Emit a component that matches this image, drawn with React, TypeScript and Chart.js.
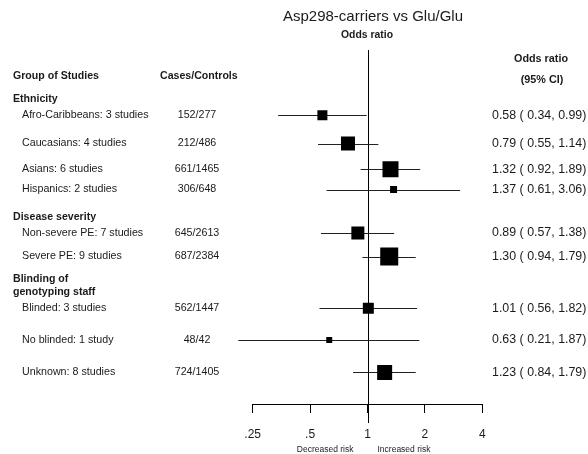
import React, { useEffect, useRef } from "react";
import { Chart, registerables } from "chart.js";

Chart.register(...registerables);

// ---- data ----
const categories = [
  "Afro-Caribbeans: 3 studies",
  "Caucasians: 4 studies",
  "Asians: 6 studies",
  "Hispanics: 2 studies",
  "Non-severe PE: 7 studies",
  "Severe PE: 9 studies",
  "Blinded: 3 studies",
  "No blinded: 1 study",
  "Unknown: 8 studies",
];
const casesControls = [
  "152/277",
  "212/486",
  "661/1465",
  "306/648",
  "645/2613",
  "687/2384",
  "562/1447",
  "48/42",
  "724/1405",
];
const oddsRatio = [0.58, 0.79, 1.32, 1.37, 0.89, 1.3, 1.01, 0.63, 1.23];
const ciLower = [0.34, 0.55, 0.92, 0.61, 0.57, 0.94, 0.56, 0.21, 0.84];
const ciUpper = [0.99, 1.14, 1.89, 3.06, 1.38, 1.79, 1.82, 1.87, 1.79];
// relative study weight (box side)
const boxWeights = [10, 14, 16, 7, 13, 18, 11, 6, 15];
// row positions (row units from the top of the plot)
const rowPos = [2.21, 3.17, 4.04, 4.73, 6.2, 7.0, 8.75, 9.83, 10.93];
const groupLabels = ["Ethnicity", "Disease severity", "Blinding of", "genotyping staff"];
const groupPos = [1.67, 5.67, 7.75, 8.2];
const tickValues = [0.25, 0.5, 1, 2, 4];
const tickLabels = [".25", ".5", "1", "2", "4"];

const FONT = "'Liberation Sans', Arial, Helvetica, sans-serif";
const TEXT = "#1a1a1a";

const forestPlugin = {
  id: "forest",
  beforeDatasetsDraw(chart: any) {
    const { ctx, chartArea, scales } = chart;
    const x = scales.x;
    const y = scales.y;
    ctx.save();
    ctx.strokeStyle = "#000";
    ctx.lineWidth = 1;
    // reference line at OR = 1
    const x1 = Math.round(x.getPixelForValue(1)) + 0.5;
    ctx.beginPath();
    ctx.moveTo(x1, chartArea.top);
    ctx.lineTo(x1, chartArea.bottom + 19);
    ctx.stroke();
    // CI lines
    ctx.strokeStyle = "#222";
    for (let i = 0; i < oddsRatio.length; i++) {
      const py = Math.round(y.getPixelForValue(rowPos[i])) + 0.5;
      ctx.beginPath();
      ctx.moveTo(x.getPixelForValue(ciLower[i]), py);
      ctx.lineTo(x.getPixelForValue(ciUpper[i]), py);
      ctx.stroke();
    }
    ctx.restore();
  },
  afterDraw(chart: any) {
    const { ctx, scales } = chart;
    const x = scales.x;
    const y = scales.y;
    ctx.save();
    ctx.fillStyle = TEXT;
    ctx.textBaseline = "middle";

    // title
    ctx.textAlign = "center";
    ctx.font = `15px ${FONT}`;
    ctx.fillText("Asp298-carriers vs Glu/Glu", 373, 17);
    ctx.font = `bold 10.4px ${FONT}`;
    ctx.fillText("Odds ratio", 367, 35.5);

    // right header
    ctx.font = `bold 10.8px ${FONT}`;
    ctx.fillText("Odds ratio", 541, 59);
    ctx.fillText("(95% CI)", 542, 80);

    // left headers
    ctx.textAlign = "left";
    ctx.font = `bold 10.6px ${FONT}`;
    ctx.fillText("Group of Studies", 13, y.getPixelForValue(0.88));
    ctx.fillText("Cases/Controls", 160, y.getPixelForValue(0.88));
    for (let g = 0; g < groupLabels.length; g++) {
      ctx.fillText(groupLabels[g], 13, y.getPixelForValue(groupPos[g]));
    }

    // rows
    for (let i = 0; i < categories.length; i++) {
      const py = y.getPixelForValue(rowPos[i]);
      ctx.font = `10.7px ${FONT}`;
      ctx.textAlign = "left";
      ctx.fillText(categories[i], 22, py);
      ctx.textAlign = "center";
      ctx.fillText(casesControls[i], 197, py);
      ctx.textAlign = "left";
      ctx.font = `12.4px ${FONT}`;
      ctx.fillText(
        `${oddsRatio[i].toFixed(2)} ( ${ciLower[i].toFixed(2)}, ${ciUpper[i].toFixed(2)})`,
        492,
        py
      );
    }

    // risk captions
    const xc = x.getPixelForValue(1);
    ctx.font = `8.5px ${FONT}`;
    ctx.textAlign = "right";
    ctx.fillText("Decreased risk", xc - 14, 449.5);
    ctx.textAlign = "left";
    ctx.fillText("Increased risk", xc + 10, 449.5);
    ctx.restore();
  },
};

export default function App() {
  const ref = useRef<HTMLCanvasElement | null>(null);
  useEffect(() => {
    if (!ref.current) return;
    Chart.defaults.font.family = FONT;
    const chart = new Chart(ref.current, {
      type: "scatter",
      data: {
        datasets: [
          {
            data: oddsRatio.map((v, i) => ({ x: v, y: rowPos[i] })),
            pointStyle: "rect",
            pointRadius: (c: any) => boxWeights[c.dataIndex] / Math.SQRT2,
            pointHoverRadius: (c: any) => boxWeights[c.dataIndex] / Math.SQRT2,
            backgroundColor: "#000",
            borderWidth: 0,
            pointBorderWidth: 0,
          } as any,
        ],
      },
      options: {
        animation: false,
        responsive: false,
        events: [],
        layout: { padding: { left: 252.7, right: 105.7, top: 50, bottom: -3 } },
        plugins: { legend: { display: false }, tooltip: { enabled: false } },
        scales: {
          x: {
            type: "logarithmic",
            position: "bottom",
            min: 0.25,
            max: 4,
            afterBuildTicks: (axis: any) => {
              axis.ticks = tickValues.map((v) => ({ value: v }));
            },
            ticks: {
              autoSkip: false,
              maxRotation: 0,
              padding: 16,
              color: TEXT,
              font: { size: 12, lineHeight: 1 },
              callback: (v: any) => {
                const k = tickValues.indexOf(Number(v));
                return k >= 0 ? tickLabels[k] : "";
              },
            },
            grid: {
              drawOnChartArea: false,
              drawTicks: true,
              tickLength: 9,
              color: "#000",
              lineWidth: 1,
            },
            border: { display: true, color: "#000", width: 1 },
          },
          y: {
            type: "linear",
            min: 0,
            max: 12,
            reverse: true,
            display: false,
          },
        },
      } as any,
      plugins: [forestPlugin],
    });
    return () => chart.destroy();
  }, []);
  return (
    <div style={{ position: "fixed", left: 0, top: 0, width: 588, height: 454, background: "#fff" }}>
      <canvas ref={ref} width={588} height={454} style={{ display: "block" }} />
    </div>
  );
}
